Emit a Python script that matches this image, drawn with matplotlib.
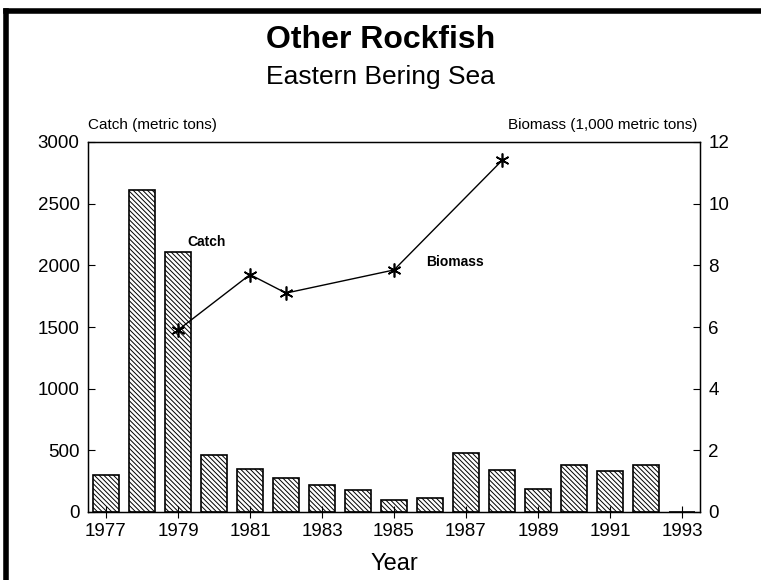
import matplotlib
matplotlib.use("Agg")
import matplotlib.pyplot as plt

plt.rcParams['font.family'] = ['Liberation Sans', 'DejaVu Sans']
plt.rcParams['hatch.linewidth'] = 0.7

years = [1977, 1978, 1979, 1980, 1981, 1982, 1983, 1984, 1985, 1986,
         1987, 1988, 1989, 1990, 1991, 1992, 1993]
catch = [300, 2610, 2110, 460, 350, 275, 215, 180, 95, 110,
         475, 340, 190, 385, 335, 385, 0]
bio_years = [1979, 1981, 1982, 1985, 1988]
biomass = [5.9, 7.7, 7.1, 7.85, 11.4]
xticks = [1977, 1979, 1981, 1983, 1985, 1987, 1989, 1991, 1993]
left_ticks = [0, 500, 1000, 1500, 2000, 2500, 3000]
right_ticks = [0, 2, 4, 6, 8, 10, 12]

fig = plt.figure(figsize=(7.61, 5.80), dpi=100)
ax = fig.add_axes([88/761, 68/580, 612/761, 370/580])
ax.bar(years, catch, width=0.7, color='white', edgecolor='black',
       hatch='\\' * 7, linewidth=1.2)
ax.set_xlim(1976.5, 1993.5)
ax.set_ylim(0, 3000)
ax.set_xticks(xticks)
ax.set_yticks(left_ticks)
ax.tick_params(axis='y', direction='in', length=5, labelsize=13.5, pad=6)
ax.tick_params(axis='x', direction='inout', length=8, labelsize=13.5, pad=4)
for s in ax.spines.values():
    s.set_linewidth(1.0)
ax.set_xlabel('Year', fontsize=17, labelpad=9)

ax2 = ax.twinx()
ax2.set_ylim(0, 12)
ax2.set_yticks(right_ticks)
ax2.tick_params(axis='y', direction='in', length=5, labelsize=13.5, pad=6)
ax2.plot(bio_years, biomass, color='black', linewidth=1.0, marker=(6, 2, 0),
         markersize=10, markeredgewidth=1.2)

ax.text(1979.25, 2160, 'Catch', fontsize=10, fontweight='bold')
ax2.text(1985.9, 8.1, 'Biomass', fontsize=10, fontweight='bold', va='center')

fig.text(88/761, 1 - 125/580, 'Catch (metric tons)', fontsize=11, va='center', ha='left')
fig.text(697/761, 1 - 125/580, 'Biomass (1,000 metric tons)', fontsize=11, va='center', ha='right')
fig.text(0.5, 1 - 40/580, 'Other Rockfish', fontsize=23, fontweight='bold', ha='center', va='center')
fig.text(0.5, 1 - 77/580, 'Eastern Bering Sea', fontsize=19, ha='center', va='center')

fig.add_artist(plt.Line2D([6/761, 761/761], [1 - 11/580, 1 - 11/580], color='black', linewidth=4, transform=fig.transFigure))
fig.add_artist(plt.Line2D([6/761, 6/761], [1 - 11/580, 0], color='black', linewidth=4, transform=fig.transFigure))

fig.savefig('out.png', dpi=100)
